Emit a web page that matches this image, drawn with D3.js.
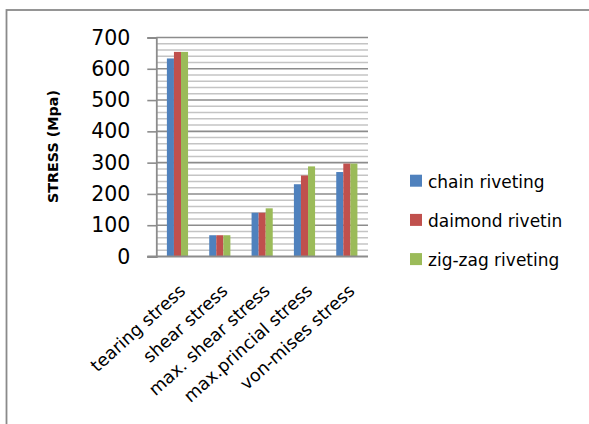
<!DOCTYPE html>
<html>
<head>
<meta charset="utf-8">
<script src="https://cdn.jsdelivr.net/npm/d3@7"></script>
<style>
  html, body { margin: 0; padding: 0; background: #fff; }
  svg { display: block; }
  text { font-family: "DejaVu Sans", sans-serif; fill: #000; }
</style>
</head>
<body>
<svg id="chart" width="589" height="424"></svg>
<script>
// Stress comparison of three riveting patterns
const categories = ["tearing stress", "shear stress", "max. shear stress", "max.princial stress", "von-mises stress"];
const seriesNames = ["chain riveting", "daimond rivetin", "zig-zag riveting"];
const chainValues   = [633, 68, 140, 231, 270];
const daimondValues = [654, 68, 140, 259, 297];
const zigzagValues  = [654, 68, 154, 288, 297];
const yTicks = [0, 100, 200, 300, 400, 500, 600, 700];
const colors = ["#4F81BD", "#C0504D", "#9BBB59"];

const seriesValues = [chainValues, daimondValues, zigzagValues];

const svg = d3.select("#chart");

// outer frame (runs off the right and bottom edges)
svg.append("rect")
  .attr("x", 6.5).attr("y", 10)
  .attr("width", 640).attr("height", 480)
  .attr("fill", "#fff")
  .attr("stroke", "#8a8a8a").attr("stroke-width", 1.8);

const plot = { left: 156.3, right: 368, top: 37.5, bottom: 256.5 };

const y = d3.scaleLinear().domain([0, 700]).range([plot.bottom, plot.top]);
const x0 = d3.scaleBand().domain(categories).range([plot.left, plot.right]);
const bw = x0.bandwidth();
const x1 = d3.scaleBand().domain(seriesNames).range([bw * 0.25, bw * 0.75]);

// minor gridlines every 20
const minor = d3.range(0, 701, 20).filter(v => v % 100 !== 0);
svg.append("g").selectAll("line").data(minor).join("line")
  .attr("x1", plot.left).attr("x2", plot.right)
  .attr("y1", d => y(d)).attr("y2", d => y(d))
  .attr("stroke", "#c4c4c4").attr("stroke-width", 1.5);

// major gridlines
svg.append("g").selectAll("line").data(yTicks.filter(v => v > 0)).join("line")
  .attr("x1", plot.left).attr("x2", plot.right)
  .attr("y1", d => y(d)).attr("y2", d => y(d))
  .attr("stroke", "#8c8c8c").attr("stroke-width", 1.6);

// bars
const groups = svg.append("g").selectAll("g").data(categories).join("g")
  .attr("transform", d => `translate(${x0(d)},0)`);
groups.selectAll("rect")
  .data((d, i) => seriesNames.map((s, k) => ({ s, k, v: seriesValues[k][i] })))
  .join("rect")
  .attr("x", d => x1(d.s))
  .attr("width", x1.bandwidth())
  .attr("y", d => y(d.v))
  .attr("height", d => y(0) - y(d.v))
  .attr("fill", d => colors[d.k]);

// y axis
const yAxis = d3.axisLeft(y).tickValues(yTicks).tickSize(9).tickPadding(17);
const gy = svg.append("g").attr("transform", `translate(${plot.left},0)`).call(yAxis);
gy.select(".domain").attr("stroke", "#8c8c8c").attr("stroke-width", 1.8);
gy.selectAll(".tick line").attr("stroke", "#8c8c8c").attr("stroke-width", 1.6);
gy.selectAll(".tick text")
  .attr("font-family", "DejaVu Sans").attr("font-size", 20.5).attr("fill", "#000");

// x axis
const gx = svg.append("g").attr("transform", `translate(0,${plot.bottom})`)
  .call(d3.axisBottom(x0).tickSize(0).tickPadding(0));
gx.select(".domain").attr("stroke", "#8c8c8c").attr("stroke-width", 1.8)
  .attr("d", `M${plot.left - 9},0H${plot.right}`);
gx.selectAll(".tick text")
  .attr("font-family", "DejaVu Sans").attr("font-size", 17.5).attr("fill", "#000")
  .attr("text-anchor", "end")
  .attr("dy", 0)
  .attr("transform", "translate(9,36) rotate(-42)");

// y axis title
svg.append("text")
  .attr("transform", "translate(57.5,146.5) rotate(-90)")
  .attr("text-anchor", "middle")
  .attr("font-weight", "bold").attr("font-size", 14.3)
  .text("STRESS (Mpa)");

// legend
const legend = svg.append("g").selectAll("g").data(seriesNames).join("g")
  .attr("transform", (d, i) => `translate(410,${180.7 + i * 39.2})`);
legend.append("rect")
  .attr("x", 0).attr("y", -6).attr("width", 12).attr("height", 12)
  .attr("fill", (d, i) => colors[i]);
legend.append("text")
  .attr("x", 18).attr("y", 1)
  .attr("dominant-baseline", "central")
  .attr("font-size", 17)
  .text(d => d);
</script>
</body>
</html>
